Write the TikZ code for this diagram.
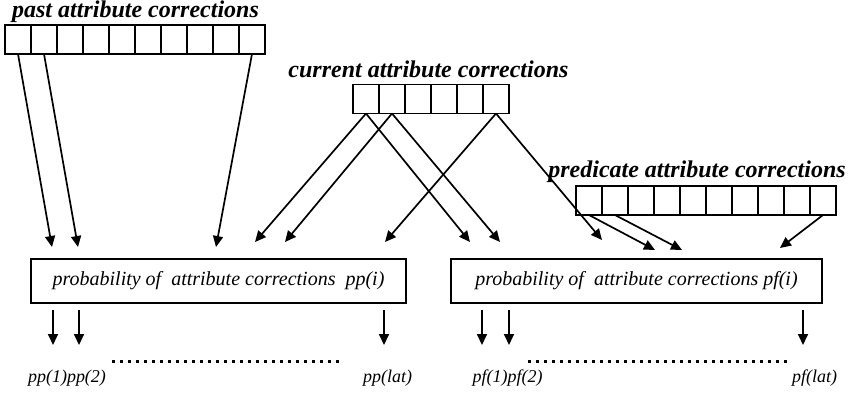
\documentclass[tikz,border=0pt]{standalone}
\usepackage{fontspec}
\setmainfont{Liberation Serif}
\usepackage{tikz}
\usetikzlibrary{arrows.meta}
\tikzset{
  cell/.style={draw, line width=0.6pt, minimum width=13pt, minimum height=14.5pt, inner sep=0pt, outer sep=0pt},
  title/.style={font=\fontsize{12}{14}\selectfont\bfseries\itshape, inner sep=0pt},
  probbox/.style={draw, line width=1pt, minimum height=22pt, inner sep=0pt, font=\fontsize{10}{12}\selectfont\itshape},
  outlabel/.style={font=\fontsize{9}{11}\selectfont\itshape, inner sep=0pt},
  flow/.style={-{Triangle[length=5.5pt, width=5pt]}, line width=0.85pt},
  dotrow/.style={line width=1.5pt, dash pattern=on 1.5pt off 2.5pt},
}

\begin{document}
\begin{tikzpicture}[x=0.5pt, y=-0.5pt]
  \useasboundingbox (0,0) rectangle (848,393);
  % the three correction arrays
  \node[title] (pasttitle) at (135.5,12) {past attribute corrections};
  \foreach \i in {1,...,10} {\node[cell] (p\i) at ({18+26*(\i-1)},39.5) {};}
  \node[title] (curtitle) at (428.5,69) {current attribute corrections};
  \foreach \i in {1,...,6} {\node[cell] (c\i) at ({366+26*(\i-1)},99) {};}
  \node[title] (predtitle) at (697,172) {predicate attribute corrections};
  \foreach \i in {1,...,10} {\node[cell] (q\i) at ({589+26*(\i-1)},200.5) {};}

  % probability boxes
  \node[probbox, minimum width=187.5pt] (pp) at (218.5,281) {probability of\ \ attribute corrections\ \ pp(i)};
  \node[probbox, minimum width=185.5pt] (pf) at (636.5,281) {probability of\ \ attribute corrections pf(i)};

  % arrow ends above the boxes
  \coordinate (a1) at (52,247);
  \coordinate (a2) at (78,247);
  \coordinate (a3) at (216,247);
  \coordinate (a4) at (255,242);
  \coordinate (a5) at (285,242);
  \coordinate (a6) at (385,242);
  \coordinate (b1) at (470,242);
  \coordinate (b2) at (500,242);
  \coordinate (b3) at (602,240);
  \coordinate (b4) at (655,250);
  \coordinate (b5) at (682,250);
  \coordinate (b6) at (780,248);

  \draw[flow] (p1.south) -- (a1);
  \draw[flow] (p2.south) -- (a2);
  \draw[flow] (p10.south) -- (a3);
  \foreach \c/\l/\r in {c1/a4/b1, c2/a5/b2, c6/a6/b3} {\draw[flow] (\c.south) -- (\l); \draw[flow] (\c.south) -- (\r);}
  \draw[flow] (q1.south) -- (b4);
  \draw[flow] (q2.south) -- (b5);
  \draw[flow] (q10.south) -- (b6);

  % outputs
  \coordinate (o1) at (53,345);
  \coordinate (o2) at (79,345);
  \coordinate (o3) at (384,345);
  \coordinate (o4) at (482,345);
  \coordinate (o5) at (509,345);
  \coordinate (o6) at (803,345);
  \foreach \o in {o1, o2, o3} {\draw[flow] ([yshift=-3pt]pp.south -| \o) -- (\o);}
  \foreach \o in {o4, o5, o6} {\draw[flow] ([yshift=-3pt]pf.south -| \o) -- (\o);}
  \draw[dotrow] (112,361) -- (343,361);
  \draw[dotrow] (528,361) -- (792,361);
  \node[outlabel] (ppfirst) at (67,378) {pp(1)pp(2)};
  \node[outlabel] (pplast) at (387.5,378) {pp(lat)};
  \node[outlabel] (pffirst) at (507.5,378) {pf(1)pf(2)};
  \node[outlabel] (pflast) at (814.5,378) {pf(lat)};
\end{tikzpicture}
\end{document}
